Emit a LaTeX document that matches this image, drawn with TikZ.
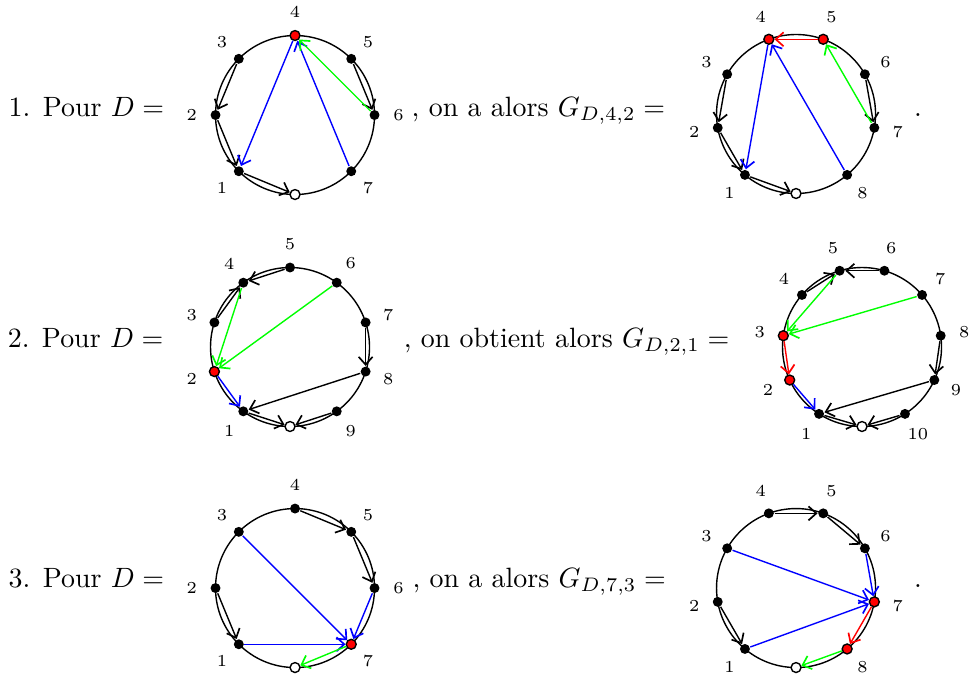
\documentclass[tikz,border=0pt]{standalone}
\usetikzlibrary{arrows.meta}
\tikzset{
  bdot/.style={circle,inner sep=0pt,minimum size=1.25mm,fill=black},
  rdot/.style={circle,inner sep=0pt,minimum size=1.25mm,draw=black,fill=red},
  wdot/.style={circle,inner sep=0pt,minimum size=1.25mm,draw=black,fill=white},
  lbl/.style={inner sep=0pt,font=\fontsize{6}{7}\selectfont},
  txt/.style={anchor=base west,inner sep=0pt,font=\fontsize{10}{12}\selectfont}
}
\begin{document}
\begin{tikzpicture}[line width=0.5pt,>={Straight Barb[length=2.8pt,width=5pt,line width=0.6pt]}]
\useasboundingbox (0,0) rectangle (12.327,8.491);
\node[txt] (t1) at (0.10,7.03) {1. Pour $D =$};
\node[txt] (u1) at (5.17,7.03) {, on a alors $G_{D,4,2} =$};
\node[txt] (v1) at (11.49,7.03) {.};
\node[txt] (t2) at (0.09,4.126) {2. Pour $D =$};
\node[txt] (u2) at (5.07,4.126) {, on obtient alors $G_{D,2,1} =$};
\node[txt] (t3) at (0.10,1.107) {3. Pour $D =$};
\node[txt] (u3) at (5.18,1.107) {, on a alors $G_{D,7,3} =$};
\node[txt] (v3) at (11.49,1.107) {.};

\begin{scope}[shift={(3.711,7.044)}]
\draw (0,0) circle(1);
\foreach \i/\s in {0/wdot,1/bdot,2/bdot,3/bdot,4/rdot,5/bdot,6/bdot,7/bdot}
  \node[\s] (a\i) at ({270-45*\i}:1) {};
\foreach \i in {1,...,7}
  \node[lbl] (la\i) at ({270-45*\i}:1.3) {\i};
\draw[->] (a3)--(a2);
\draw[->] (a2)--(a1);
\draw[->] (a1)--(a0);
\draw[->] (a5)--(a6);
\draw[->,blue] (a4)--(a1);
\draw[->,blue] (a7)--(a4);
\draw[->,green] (a6)--(a4);
\end{scope}

\begin{scope}[shift={(10.013,7.057)}]
\draw (0,0) circle(1);
\foreach \i/\s in {0/wdot,1/bdot,2/bdot,3/bdot,4/rdot,5/rdot,6/bdot,7/bdot,8/bdot}
  \node[\s] (b\i) at ({270-40*\i}:1) {};
\foreach \i in {1,...,8}
  \node[lbl] (lb\i) at ({270-40*\i}:1.3) {\i};
\draw[->] (b3)--(b2);
\draw[->] (b2)--(b1);
\draw[->] (b1)--(b0);
\draw[->] (b6)--(b7);
\draw[->,red] (b5)--(b4);
\draw[->,blue] (b4)--(b1);
\draw[->,blue] (b8)--(b4);
\draw[->,green] (b7)--(b5);
\end{scope}

\begin{scope}[shift={(3.648,4.126)}]
\draw (0,0) circle(1);
\foreach \i/\s in {0/wdot,1/bdot,2/rdot,3/bdot,4/bdot,5/bdot,6/bdot,7/bdot,8/bdot,9/bdot}
  \node[\s] (c\i) at ({270-36*\i}:1) {};
\foreach \i in {1,...,9}
  \node[lbl] (lc\i) at ({270-36*\i}:1.3) {\i};
\draw[->] (c3)--(c4);
\draw[->] (c5)--(c4);
\draw[->] (c7)--(c8);
\draw[->] (c8)--(c1);
\draw[->] (c1)--(c0);
\draw[->] (c9)--(c0);
\draw[->,green] (c4)--(c2);
\draw[->,green] (c6)--(c2);
\draw[->,blue] (c2)--(c1);
\end{scope}

\begin{scope}[shift={(10.843,4.126)}]
\draw (0,0) circle(1);
\foreach \i/\s in {0/wdot,1/bdot,2/rdot,3/rdot,4/bdot,5/bdot,6/bdot,7/bdot,8/bdot,9/bdot,10/bdot}
  \node[\s] (d\i) at ({270-360/11*\i}:1) {};
\foreach \i in {1,...,10}
  \node[lbl] (ld\i) at ({270-360/11*\i}:1.3) {\i};
\draw[->] (d4)--(d5);
\draw[->] (d6)--(d5);
\draw[->] (d8)--(d9);
\draw[->] (d9)--(d1);
\draw[->] (d1)--(d0);
\draw[->] (d10)--(d0);
\draw[->,green] (d5)--(d3);
\draw[->,green] (d7)--(d3);
\draw[->,red] (d3)--(d2);
\draw[->,blue] (d2)--(d1);
\end{scope}

\begin{scope}[shift={(3.711,1.094)}]
\draw (0,0) circle(1);
\foreach \i/\s in {0/wdot,1/bdot,2/bdot,3/bdot,4/bdot,5/bdot,6/bdot,7/rdot}
  \node[\s] (e\i) at ({270-45*\i}:1) {};
\foreach \i in {1,...,7}
  \node[lbl] (le\i) at ({270-45*\i}:1.3) {\i};
\draw[->] (e4)--(e5);
\draw[->] (e5)--(e6);
\draw[->] (e2)--(e1);
\draw[->,blue] (e3)--(e7);
\draw[->,blue] (e1)--(e7);
\draw[->,blue] (e6)--(e7);
\draw[->,green] (e7)--(e0);
\end{scope}

\begin{scope}[shift={(10.013,1.094)}]
\draw (0,0) circle(1);
\foreach \i/\s in {0/wdot,1/bdot,2/bdot,3/bdot,4/bdot,5/bdot,6/bdot,7/rdot,8/rdot}
  \node[\s] (f\i) at ({270-40*\i}:1) {};
\foreach \i in {1,...,8}
  \node[lbl] (lf\i) at ({270-40*\i}:1.3) {\i};
\draw[->] (f4)--(f5);
\draw[->] (f5)--(f6);
\draw[->] (f2)--(f1);
\draw[->,blue] (f6)--(f7);
\draw[->,blue] (f3)--(f7);
\draw[->,blue] (f1)--(f7);
\draw[->,red] (f7)--(f8);
\draw[->,green] (f8)--(f0);
\end{scope}
\end{tikzpicture}
\end{document}
